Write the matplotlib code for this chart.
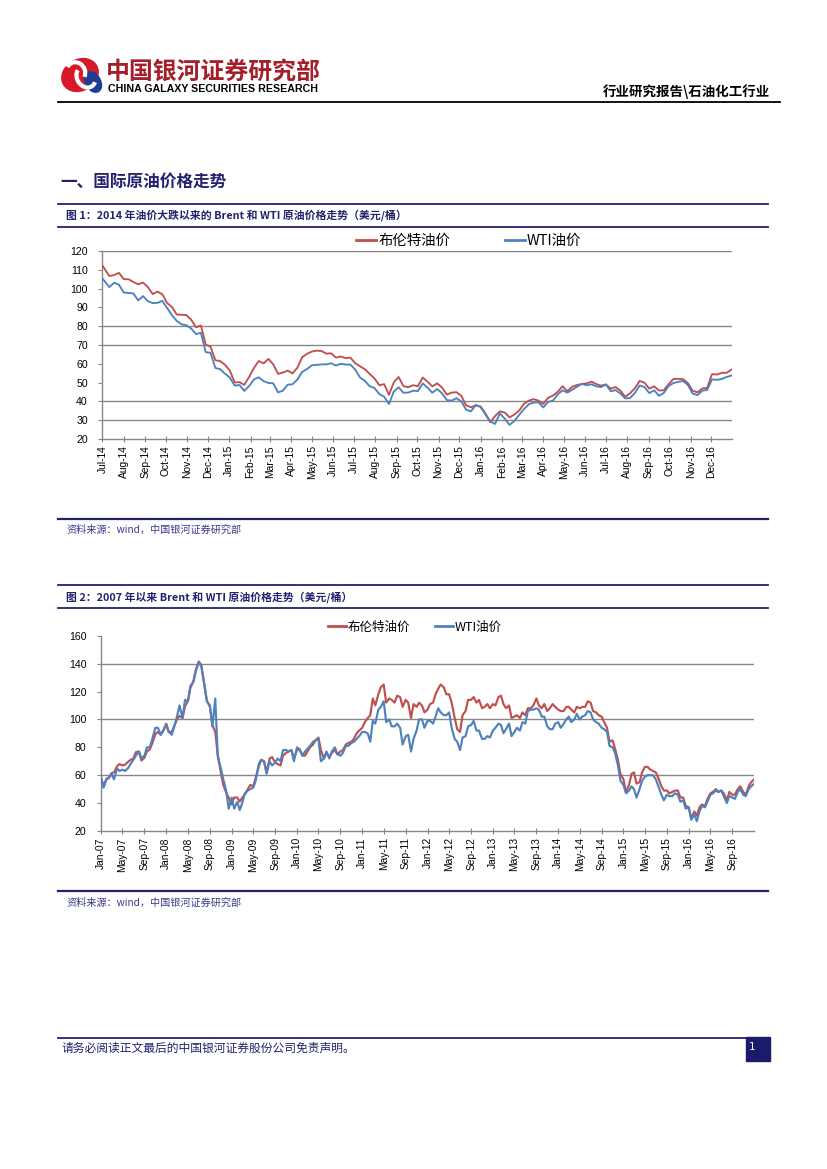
import matplotlib
matplotlib.use('Agg')
import matplotlib.pyplot as plt
import matplotlib.dates as mdates
from matplotlib.patches import Ellipse, Rectangle, Arc
import pandas as pd

plt.rcParams['font.family'] = ['Noto Sans CJK SC', 'DejaVu Sans']

# ---------------- data: figure 1 (weekly, Jul-2014 .. Dec-2016) ----------------
brent_1 = [
    112.3, 110.6, 106.7, 107.2, 108.4, 105.0, 105.0, 103.5, 102.3, 103.2, 100.8, 97.1, 98.4, 97.0,
    92.3, 90.2, 86.2, 86.1, 85.9, 83.4, 79.4, 80.4, 70.2, 69.1, 61.9, 61.4, 59.5,
    56.4, 50.1, 50.2, 48.8, 53.0, 57.8, 61.5, 60.2, 62.6, 59.7, 54.7, 55.3, 56.4, 54.9, 57.9, 63.5,
    65.3, 66.5, 67.0, 66.8, 65.4, 65.6, 63.3, 63.9, 63.0, 63.3, 60.3, 58.7, 57.1, 54.6, 52.2, 48.6,
    49.2, 43.5, 50.1, 53.0, 48.1, 47.5, 48.6, 48.1, 52.7, 50.5, 48.0, 49.6, 47.4, 43.6, 44.7, 44.9,
    43.0, 37.9, 36.9, 37.9,
    37.3, 33.6, 28.9, 32.2, 34.7, 34.1, 31.5, 33.0, 35.1, 38.7, 40.4, 41.2, 40.4, 38.7, 41.9, 43.1,
    45.1, 48.1, 45.4, 47.8, 48.7, 49.3, 49.6, 50.5, 49.2, 48.4, 49.0, 46.8, 47.6, 45.7, 42.5, 44.3,
    47.0, 50.9, 49.9, 46.8, 48.0, 45.8, 45.9, 49.2, 51.9, 52.0, 51.8, 49.7, 45.6, 44.8, 46.9, 47.2,
    54.5, 54.3, 55.2, 55.2, 56.8]
wti_1 = [
    105.3, 104.1, 100.8, 103.1, 102.1, 97.9, 97.7, 97.4, 93.7, 96.0, 93.3, 92.3, 92.4, 93.5,
    89.7, 85.8, 82.8, 81.0, 80.5, 78.7, 75.8, 76.5, 66.2, 65.8, 57.8, 57.1, 54.7,
    52.7, 48.4, 48.7, 45.6, 48.2, 51.7, 52.8, 50.8, 49.8, 49.6, 44.8, 45.7, 48.9, 49.1, 51.6, 55.7,
    57.2, 59.2, 59.4, 59.7, 59.7, 60.3, 59.1, 60.0, 59.6, 59.6, 56.9, 52.7, 50.9, 48.1, 47.1, 43.9,
    42.5, 38.6, 45.2, 47.5, 44.6, 44.7, 45.7, 45.5, 49.6, 47.3, 44.6, 46.6, 44.3, 40.7, 40.4, 41.7,
    40.0, 35.6, 34.7, 38.1,
    37.0, 33.2, 29.4, 28.0, 33.6, 30.9, 27.5, 29.6, 32.8, 35.9, 38.5, 39.4, 39.5, 36.8, 39.7, 40.4,
    43.7, 45.9, 44.7, 46.2, 47.8, 49.3, 48.6, 49.1, 48.0, 47.6, 49.0, 45.4, 46.0, 44.2, 41.6, 41.8,
    44.5, 48.5, 47.6, 44.4, 45.9, 43.0, 44.5, 48.2, 49.8, 50.4, 50.9, 48.7, 44.1, 43.4, 45.7, 46.1,
    51.7, 51.5, 51.9, 53.0, 53.7]
dates_1 = pd.DatetimeIndex([pd.Timestamp('2014-07-01')]).append(
    pd.date_range('2014-07-04', '2016-12-30', freq='W-FRI'))

# ---------------- data: figure 2 (semi-monthly, Jan-2007 .. Dec-2016) ----------------
brent_2 = [
    57.5, 52.5, 57.5, 58.5, 61.5, 62.0, 66.5, 68.0, 67.0, 67.5, 69.5, 71.0, 72.0, 76.5, 77.0, 70.5, 72.5, 77.0, 78.5, 83.0, 89.5, 91.0, 89.0, 92.0,
    97.0, 91.0, 91.0, 95.5, 100.0, 102.5, 101.0, 109.5, 113.0, 122.5, 127.5, 136.0, 141.5, 139.0, 124.5, 113.5, 109.0, 96.0, 91.0, 74.0, 62.0, 53.0, 47.5, 44.0,
    39.0, 44.0, 44.0, 41.0, 44.0, 46.0, 50.0, 53.0, 52.0, 58.0, 66.0, 71.0, 70.0, 62.0, 72.0, 73.0, 69.0, 68.0, 67.0, 74.0, 76.0, 77.0, 78.0, 72.0,
    78.0, 79.0, 74.0, 74.0, 77.0, 80.0, 82.0, 85.0, 87.0, 78.0, 72.0, 76.0, 73.0, 76.0, 78.0, 75.0, 77.0, 78.0, 82.0, 83.0, 84.0, 86.0, 90.0, 92.0,
    94.0, 98.0, 101.0, 103.0, 115.0, 110.0, 118.0, 123.0, 125.0, 112.0, 115.0, 114.0, 112.0, 117.0, 116.0, 109.0, 114.0, 112.0, 101.0, 111.0, 109.0, 112.0, 110.0, 105.0,
    107.0, 111.0, 112.0, 118.0, 122.0, 125.0, 123.0, 118.0, 118.0, 112.0, 101.0, 93.0, 91.0, 103.0, 106.0, 114.0, 114.0, 116.0, 112.0, 114.0, 108.0, 109.0, 111.0, 108.0,
    111.0, 110.0, 116.0, 117.0, 111.0, 108.0, 110.0, 101.0, 102.0, 103.0, 101.0, 105.0, 103.0, 108.0, 108.0, 110.0, 115.0, 110.0, 108.0, 111.0, 106.0, 108.0, 111.0, 109.0,
    107.0, 106.0, 106.0, 109.0, 109.0, 107.0, 105.0, 109.0, 108.0, 109.0, 109.0, 113.0, 112.0, 106.0, 105.0, 103.0, 102.0, 98.0, 94.0, 84.0, 85.0, 79.0, 71.0, 61.0,
    57.0, 48.0, 53.0, 61.0, 62.0, 54.0, 55.0, 62.0, 66.0, 66.0, 64.0, 63.0, 62.0, 58.0, 52.0, 49.0, 49.0, 47.0, 48.0, 49.0, 49.0, 44.0, 44.0, 38.0,
    37.0, 29.0, 34.0, 31.0, 37.0, 39.0, 38.0, 43.0, 47.0, 48.0, 50.0, 48.0, 49.0, 47.0, 42.0, 48.0, 46.0, 46.0, 50.0, 52.0, 48.0, 46.0, 52.0, 55.0,
    56.8]
wti_2 = [
    59.0, 51.0, 57.0, 58.0, 61.0, 57.0, 65.0, 63.0, 64.0, 63.0, 65.0, 68.0, 71.0, 74.0, 77.0, 72.0, 74.0, 80.0, 80.0, 86.0, 94.0, 94.0, 89.0, 92.0,
    96.0, 91.0, 89.0, 95.0, 102.0, 110.0, 101.0, 114.0, 113.0, 124.0, 127.0, 135.0, 141.0, 138.0, 125.0, 113.0, 110.0, 95.0, 115.0, 74.0, 65.0, 57.0, 49.0, 36.0,
    44.0, 36.0, 41.0, 35.0, 40.0, 47.0, 49.0, 50.0, 51.0, 56.0, 68.0, 71.0, 70.0, 61.0, 70.0, 67.0, 69.0, 72.0, 70.0, 78.0, 78.0, 77.0, 78.0, 70.0,
    80.0, 78.0, 74.0, 77.0, 79.0, 81.0, 84.0, 85.0, 86.0, 70.0, 72.0, 77.0, 72.0, 77.0, 80.0, 75.0, 74.0, 76.0, 81.0, 81.0, 83.0, 84.0, 86.0, 88.0,
    91.0, 91.0, 90.0, 84.0, 99.0, 97.0, 107.0, 109.0, 113.0, 98.0, 100.0, 95.0, 95.0, 97.0, 94.0, 82.0, 88.0, 89.0, 77.0, 86.0, 92.0, 100.0, 100.0, 94.0,
    99.0, 99.0, 97.0, 102.0, 108.0, 105.0, 103.0, 103.0, 105.0, 94.0, 86.0, 84.0, 78.0, 87.0, 88.0, 95.0, 96.0, 99.0, 92.0, 92.0, 86.0, 86.0, 88.0, 87.0,
    92.0, 94.0, 97.0, 96.0, 90.0, 93.0, 97.0, 88.0, 91.0, 94.0, 92.0, 98.0, 97.0, 106.0, 107.0, 107.0, 108.0, 107.0, 102.0, 102.0, 95.0, 93.0, 93.0, 97.0,
    98.0, 94.0, 97.0, 100.0, 102.0, 98.0, 100.0, 104.0, 100.0, 102.0, 103.0, 106.0, 105.0, 100.0, 98.0, 97.0, 94.0, 93.0, 91.0, 81.0, 80.0, 76.0, 67.0, 56.0,
    53.0, 47.0, 49.0, 52.0, 50.0, 44.0, 50.0, 56.0, 59.0, 60.0, 60.0, 60.0, 57.0, 52.0, 46.0, 42.0, 46.0, 45.0, 45.0, 47.0, 46.0, 41.0, 42.0, 36.0,
    37.0, 28.0, 32.0, 27.0, 34.0, 38.0, 37.0, 41.0, 46.0, 47.0, 49.0, 48.0, 49.0, 45.0, 40.0, 45.0, 44.0, 43.0, 48.0, 50.0, 46.0, 45.0, 50.0, 52.0,
    53.7]
dates_2 = pd.date_range('2007-01-01', periods=len(brent_2) - 1, freq='SMS').append(
    pd.DatetimeIndex([pd.Timestamp('2016-12-30')]))

series_names = ['布伦特油价', 'WTI油价']
yticks_1 = list(range(20, 121, 10))
yticks_2 = list(range(20, 161, 20))
grid_1 = [30, 40, 70, 80, 120]
grid_2 = [60, 100, 140]

title_header = '中国银河证券研究部'
title_header_en = 'CHINA GALAXY SECURITIES RESEARCH'
header_right = '行业研究报告\\石油化工行业'
section_title = '一、国际原油价格走势'
caption_1 = '图 1：2014 年油价大跌以来的 Brent 和 WTI 原油价格走势（美元/桶）'
caption_2 = '图 2：2007 年以来 Brent 和 WTI 原油价格走势（美元/桶）'
source_text = '资料来源：wind，中国银河证券研究部'
footer_text = '请务必阅读正文最后的中国银河证券股份公司免责声明。'
page_no = '1'

# ---------------- styling ----------------
RED = '#C0504D'
BLUE = '#4F81BD'
GRID = '#878787'
NAVY = '#22226E'

W, H = 827, 1169
fig = plt.figure(figsize=(W / 100, H / 100), dpi=100)

ov = fig.add_axes([0, 0, 1, 1])
ov.set_xlim(0, W)
ov.set_ylim(H, 0)
ov.axis('off')
ov.set_zorder(-1)


def px_axes(l, t, r, b):
    return fig.add_axes([l / W, 1 - b / H, (r - l) / W, (b - t) / H])


def draw_chart(ax, dates, brent, wti, xlim, ylim, yticks, grid_vals, locator,
               lw, leg_anchor, leg_fs, colsp, handlelen):
    ax.plot(dates, brent, color=RED, lw=lw, label=series_names[0], zorder=3)
    ax.plot(dates, wti, color=BLUE, lw=lw, label=series_names[1], zorder=4)
    for g in grid_vals:
        ax.axhline(g, color=GRID, lw=1.0, zorder=1)
    ax.set_xlim(pd.Timestamp(xlim[0]), pd.Timestamp(xlim[1]))
    ax.set_ylim(*ylim)
    ax.set_yticks(yticks)
    ax.xaxis.set_major_locator(locator)
    ax.xaxis.set_major_formatter(mdates.DateFormatter('%b-%y'))
    for s in ['top', 'right']:
        ax.spines[s].set_visible(False)
    for s in ['left', 'bottom']:
        ax.spines[s].set_color(GRID)
        ax.spines[s].set_linewidth(1.0)
    ax.tick_params(axis='x', direction='inout', length=5, color=GRID, labelrotation=90,
                   labelsize=7.4, pad=2, labelfontfamily='Liberation Sans')
    ax.tick_params(axis='y', direction='out', length=3, color=GRID, labelsize=7.6,
                   pad=7.5, labelfontfamily='Liberation Sans')
    ax.set_facecolor('none')
    leg = ax.legend(loc='center', bbox_to_anchor=leg_anchor, ncol=2, frameon=False,
                    fontsize=leg_fs, handlelength=handlelen, handletextpad=0.15,
                    columnspacing=colsp, borderaxespad=0, borderpad=0)
    for h in leg.get_lines():
        h.set_linewidth(2.0)
    return ax


ax1 = px_axes(102.4, 251, 732, 439)
draw_chart(ax1, dates_1, brent_1, wti_1, ('2014-07-01', '2016-12-31'), (20, 120),
           yticks_1, grid_1, mdates.MonthLocator(), 1.35, (0.582, 1.053), 10.4, 3.75, 1.4)

ax2 = px_axes(101, 635.7, 754, 831)
draw_chart(ax2, dates_2, brent_2, wti_2, ('2007-01-01', '2016-12-31'), (20, 160),
           yticks_2, grid_2, mdates.MonthLocator(bymonth=[1, 5, 9]), 1.55,
           (0.481, 1.045), 9.0, 2.0, 1.43)

# ---------------- page furniture ----------------
# logo
ov.add_patch(Ellipse((80, 75), 38, 31, angle=-30, color='#D7192A', zorder=2))
ov.add_patch(Ellipse((93, 82), 15, 22, angle=-30, color='#1F3E93', zorder=3))
ov.add_patch(Arc((86, 77), 18, 22, angle=-30, theta1=60, theta2=250, color='white', lw=3, zorder=4))
ov.add_patch(Arc((76, 72), 18, 20, angle=-30, theta1=240, theta2=420, color='white', lw=3, zorder=4))

ov.text(106, 72, title_header, fontsize=17.2, fontweight='bold', color='#A51F2B',
        va='center', ha='left')
ov.text(108, 88.5, title_header_en, fontsize=7.7, fontweight='bold',
        family='Liberation Sans', va='center', ha='left', color='black')
ov.plot([58, 780], [101.5, 101.5], color='black', lw=1.3)
ov.text(770, 92, header_right, fontsize=9.7, fontweight='bold', ha='right', va='center',
        color='black')

ov.text(60, 182, section_title, fontsize=12, fontweight='bold', color=NAVY, va='center')

# figure 1 caption bar
ov.plot([58, 768], [204, 204], color=NAVY, lw=1.3)
ov.plot([58, 768], [226.5, 226.5], color=NAVY, lw=1.3)
ov.text(66, 215.5, caption_1, fontsize=7.8, fontweight='bold', color=NAVY, va='center')
ov.plot([58, 768], [518.5, 518.5], color=NAVY, lw=1.6)
ov.text(66, 530, source_text, fontsize=7.3, color='#3A3A8C', style='italic', va='center')

# figure 2 caption bar
ov.plot([58, 768], [585, 585], color=NAVY, lw=1.3)
ov.plot([58, 768], [608, 608], color=NAVY, lw=1.3)
ov.text(66, 597, caption_2, fontsize=7.8, fontweight='bold', color=NAVY, va='center')
ov.plot([58, 768], [891, 891], color=NAVY, lw=1.6)
ov.text(66, 902.5, source_text, fontsize=7.3, color='#3A3A8C', style='italic', va='center')

# footer
ov.plot([58, 746], [1037.5, 1037.5], color=NAVY, lw=1.3)
ov.text(62, 1048, footer_text, fontsize=8.5, color=NAVY, va='center')
ov.add_patch(Rectangle((746, 1037), 24, 24, color='#1B1B6A'))
ov.text(749, 1047.5, page_no, fontsize=7.5, color='white', va='center', ha='left',
        family='DejaVu Sans')

fig.savefig('out.png', dpi=100)
